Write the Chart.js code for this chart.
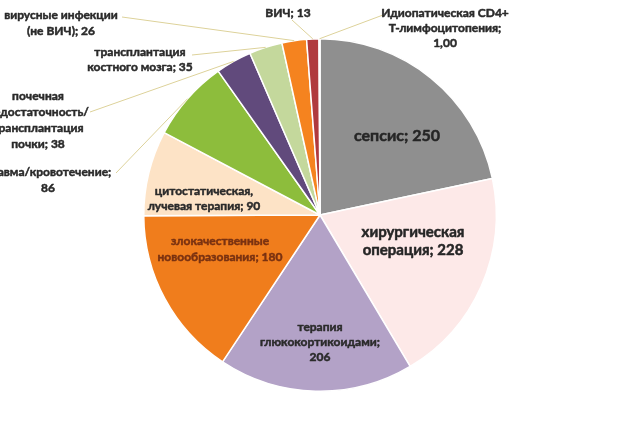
<!DOCTYPE html>
<html>
<head>
<meta charset="utf-8">
<script src="https://cdn.jsdelivr.net/npm/chart.js@4"></script>
<style>
html,body{margin:0;padding:0;background:#fff;}
#wrap{width:640px;height:427px;position:relative;}
</style>
</head>
<body>
<div id="wrap"><canvas id="c" width="640" height="427"></canvas></div>
<script>
// Data (clockwise from 12 o'clock)
const categories = [
  "сепсис",
  "хирургическая операция",
  "терапия глюкокортикоидами",
  "злокачественные новообразования",
  "цитостатическая, лучевая терапия",
  "травма/кровотечение",
  "почечная недостаточность/ трансплантация почки",
  "трансплантация костного мозга",
  "вирусные инфекции (не ВИЧ)",
  "ВИЧ",
  "Идиопатическая CD4+ Т-лимфоцитопения"
];
const values = [250, 228, 206, 180, 90, 86, 38, 35, 26, 13, 1];
const valueTexts = ["250", "228", "206", "180", "90", "86", "38", "35", "26", "13", "1,00"];

// Label text lines (as displayed)
const labelLines = [
  ["сепсис; 250"],
  ["хирургическая", "операция; 228"],
  ["терапия", "глюкокортикоидами;", "206"],
  ["злокачественные", "новообразования; 180"],
  ["цитостатическая,", "лучевая терапия; 90"],
  ["травма/кровотечение;", "86"],
  ["почечная", "недостаточность/", "трансплантация", "почки; 38"],
  ["трансплантация", "костного мозга; 35"],
  ["вирусные инфекции", "(не ВИЧ); 26"],
  ["ВИЧ; 13"],
  ["Идиопатическая CD4+", "Т-лимфоцитопения;", "1,00"]
];

// Styles / layout (kept apart from data)
const colors = ["#8f8f8f","#fde9e8","#b3a2c7","#f07d1c","#fde3c6","#8dbd3c","#614a7c","#c4d89c","#f5831f","#b03a3e","#8a3b3b"];
const labelColors = ["#262626","#262626","#2b2b2b","#7a3211","#2b2b2b","#2b2b2b","#2b2b2b","#2b2b2b","#2b2b2b","#2b2b2b","#2b2b2b"];
const labelSizes = [16,15,12,12,12,12,12,12,12,12,12];
const labelLineH = [18,18,15,16,15,16,16,15,16,15,15];
// label anchor: centre x, first-line centre y
const labelPos = [[397,136],[413,232],[320,327],[220,241],[204,191],[48,172],[38,96],[140,52],[61,15],[288,13],[445,13]];
// leader start (null = inside label)
const leaderStart = [null,null,null,null,null,[116,173],[90,112],[192,55],[122,17],[292,20],[383,15]];

const labelPlugin = {
  id: 'labels',
  afterDatasetsDraw(chart) {
    const ctx = chart.ctx;
    const meta = chart.getDatasetMeta(0);
    ctx.save();
    // leader lines
    ctx.strokeStyle = '#ddd29a';
    ctx.lineWidth = 1;
    meta.data.forEach((arc, i) => {
      const s = leaderStart[i];
      if (!s) return;
      const p = arc.getProps(['x','y','startAngle','endAngle','outerRadius'], true);
      const mid = (p.startAngle + p.endAngle) / 2;
      const ex = p.x + Math.cos(mid) * p.outerRadius;
      const ey = p.y + Math.sin(mid) * p.outerRadius;
      ctx.beginPath();
      ctx.moveTo(s[0], s[1]);
      ctx.lineTo(ex, ey);
      ctx.stroke();
    });
    // texts
    ctx.textAlign = 'center';
    ctx.textBaseline = 'middle';
    ctx.lineJoin = 'round';
    labelLines.forEach((lines, i) => {
      ctx.font = 'bold ' + labelSizes[i] + 'px Lato, "Open Sans", sans-serif';
      ctx.fillStyle = labelColors[i];
      ctx.strokeStyle = labelColors[i];
      ctx.lineWidth = 0.5;
      const [x, y] = labelPos[i];
      lines.forEach((t, k) => {
        ctx.fillText(t, x, y + k * labelLineH[i]);
        ctx.strokeText(t, x, y + k * labelLineH[i]);
      });
    });
    ctx.restore();
  }
};

new Chart(document.getElementById('c'), {
  type: 'pie',
  data: {
    labels: categories,
    datasets: [{
      data: values,
      backgroundColor: colors,
      borderColor: '#ffffff',
      borderWidth: 1.5
    }]
  },
  options: {
    responsive: false,
    animation: false,
    layout: { padding: { top: 38, bottom: 35, left: 0, right: 0 } },
    plugins: { legend: { display: false }, tooltip: { enabled: false } }
  },
  plugins: [labelPlugin]
});
</script>
</body>
</html>
